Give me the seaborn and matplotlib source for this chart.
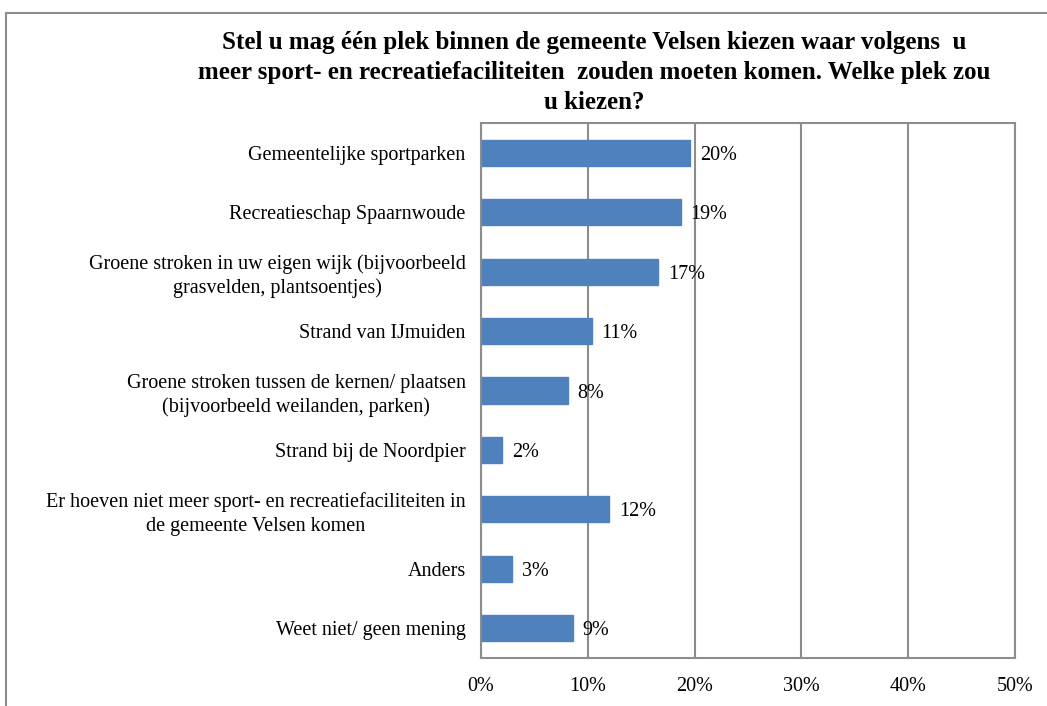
import numpy as np
import pandas as pd
import matplotlib
matplotlib.use("Agg")
import matplotlib.pyplot as plt
import seaborn as sns
from matplotlib.patches import Rectangle

categories = [
    "Gemeentelijke sportparken",
    "Recreatieschap Spaarnwoude",
    "Groene stroken in uw eigen wijk (bijvoorbeeld\ngrasvelden, plantsoentjes)",
    "Strand van IJmuiden",
    "Groene stroken tussen de kernen/ plaatsen\n(bijvoorbeeld weilanden, parken)",
    "Strand bij de Noordpier",
    "Er hoeven niet meer sport- en recreatiefaciliteiten in\nde gemeente Velsen komen",
    "Anders",
    "Weet niet/ geen mening",
]
values = [19.6, 18.7, 16.6, 10.4, 8.1, 2.0, 12.0, 2.9, 8.6]
value_labels = ["20%", "19%", "17%", "11%", "8%", "2%", "12%", "3%", "9%"]
xticks = [0, 10, 20, 30, 40, 50]

title = ("Stel u mag één plek binnen de gemeente Velsen kiezen waar volgens  u\n"
         "meer sport- en recreatiefaciliteiten  zouden moeten komen. Welke plek zou\n"
         "u kiezen?")

sns.set_style("white")
plt.rcParams["font.family"] = ["Liberation Serif", "DejaVu Serif"]
plt.rcParams["text.color"] = "black"
plt.rcParams["xtick.color"] = "black"
plt.rcParams["ytick.color"] = "black"

df = pd.DataFrame({"cat": categories, "val": values})

fig = plt.figure(figsize=(10.47, 7.06), dpi=100)
ax = fig.add_axes([481 / 1047, 1 - 658 / 706, 534 / 1047, 535 / 706])

sns.barplot(data=df, x="val", y="cat", orient="h", color="#4F81BD",
            saturation=1, width=0.44, ax=ax, edgecolor="#4F81BD")

ax.set_xlim(0, 50)
ax.set_xticks(xticks)
ax.set_xticklabels([f"{t}%" for t in xticks], fontsize=14.5)
ax.tick_params(axis="x", length=0, pad=14)
ax.tick_params(axis="y", length=0, pad=11, labelsize=14.5)
ax.set_xlabel("")
ax.set_ylabel("")
for lab in ax.get_yticklabels():
    lab.set_multialignment("center")
    lab.set_linespacing(1.3)

ax.grid(axis="x", color="#8c8c8c", linewidth=1.5)
ax.set_axisbelow(True)
for sp in ax.spines.values():
    sp.set_color("#8c8c8c")
    sp.set_linewidth(1.5)

for i, (v, lab) in enumerate(zip(values, value_labels)):
    ax.text(v + 0.9, i, lab, va="center_baseline", ha="left", fontsize=14.5)

fig.text(594 / 1047, 1 - 31 / 706, title, ha="center", va="top",
         fontsize=18, fontweight="bold", linespacing=1.38)

# outer chart frame
fig.add_artist(Rectangle((6 / 1047, -0.05), 1.1, 1 - 13 / 706 + 0.05,
                         transform=fig.transFigure, fill=False,
                         edgecolor="#8c8c8c", linewidth=1.5))

fig.savefig("out.png", dpi=100)
